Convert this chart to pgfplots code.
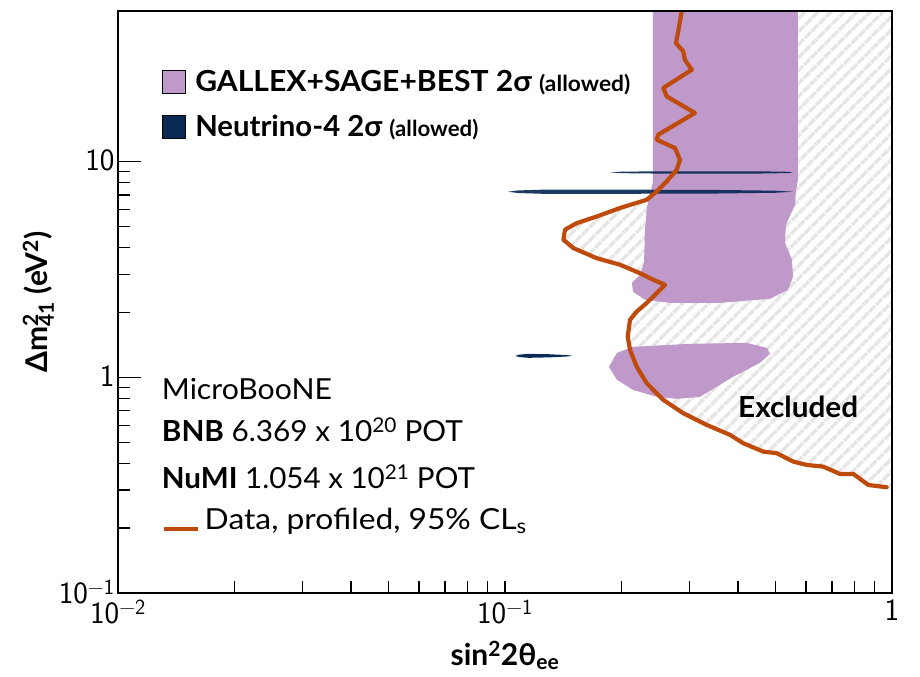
\documentclass[border=0pt]{standalone}
\usepackage{fontspec}
\setmainfont{Lato}
\usepackage{graphicx}
\usepackage{pgfplots}
\pgfplotsset{compat=1.18}
\usetikzlibrary{patterns.meta}
\definecolor{gsb}{RGB}{191,153,202}
\definecolor{nfour}{RGB}{8,42,84}
\definecolor{dataor}{RGB}{190,75,12}
\definecolor{hatchc}{RGB}{230,230,230}
\begin{document}
\begin{tikzpicture}
\path[use as bounding box] (0bp,0bp) rectangle (920bp,677bp);
\begin{axis}[
  at={(118bp,84bp)}, anchor=south west,
  scale only axis, width=774bp, height=582bp,
  xmode=log, ymode=log,
  xmin=0.01, xmax=1, ymin=0.1, ymax=50,
  axis on top,
  axis line style={line width=1.8bp},
  tick align=inside, xtick pos=bottom, ytick pos=left,
  major tick length=12bp, minor tick length=12bp,
  tick style={line width=1.3bp, black},
  xtick={0.01,0.1,1}, xticklabels={10\textsuperscript{−2},10\textsuperscript{−1},1},
  ytick={0.1,1,10}, yticklabels={10\textsuperscript{−1},1,10},
  extra y ticks={1,10}, extra y tick labels={},
  extra y tick style={major tick length=23bp},
  ticklabel style={font=\sffamily\fontsize{31bp}{33bp}\selectfont},
  xticklabel style={yshift=-3bp},
  yticklabel style={yshift=1bp},
  xlabel={\bfseries sin\textsuperscript{2}2θ\textsubscript{ee}},
  ylabel={\bfseries Δm\rlap{\textsuperscript{2}}\textsubscript{41} (eV\textsuperscript{2})},
  label style={font=\fontsize{30bp}{32bp}\selectfont},
  xlabel style={at={(axis description cs:0.5,-0.107)}, anchor=center},
  ylabel style={at={(axis description cs:-0.103,0.5)}, anchor=center},
  legend image code/.code={\fill[#1] (0bp,-1.5bp) rectangle (23bp,21.5bp);},
  legend style={at={(axis description cs:0.0565,0.8986)}, anchor=north west,
    draw=none, fill=none, inner sep=0pt, row sep=21bp,
    font=\fontsize{29bp}{34bp}\selectfont\bfseries,
    nodes={inner sep=0pt, anchor=base west}},
  legend cell align=left,
]
% excluded region (hatched)
\addplot[forget plot, draw=none, pattern={Lines[angle=45,distance=9.5bp,line width=3.5bp]}, pattern color=hatchc] coordinates {
(0.2861,60) (0.2861,49.8) (0.2804,40.2) (0.2766,35.5) (0.2888,32.5) (0.2917,29.7) (0.3038,26.7)
(0.2565,21.98) (0.2617,20.09) (0.3097,16.83) (0.2489,13.35) (0.2466,12.65) (0.2749,11.58)
(0.2833,10.21) (0.2778,9.18) (0.2617,8.10) (0.2466,7.28) (0.2323,6.66) (0.1982,6.10)
(0.1726,5.57) (0.1532,5.19) (0.1429,4.84) (0.1415,4.35) (0.1501,3.98) (0.1726,3.57)
(0.1982,3.33) (0.2233,3.04) (0.2416,2.835) (0.2591,2.687) (0.2466,2.459) (0.2323,2.210)
(0.2189,2.020) (0.2104,1.849) (0.2075,1.547) (0.2104,1.342) (0.2189,1.122) (0.2323,0.940)
(0.2565,0.786) (0.2888,0.682) (0.3320,0.602) (0.3815,0.541) (0.4127,0.495) (0.4650,0.4525)
(0.5036,0.445) (0.5559,0.4067) (0.6020,0.3926) (0.6648,0.3855) (0.7338,0.3566) (0.7946,0.3566)
(0.8686,0.317) (0.9690,0.3093) (1,0.3093) (1,60)
} -- cycle;
% GALLEX+SAGE+BEST upper region
\addplot[forget plot, draw=none, fill=gsb] coordinates {
(0.2412,60) (0.2412,8.08) (0.2384,7.41) (0.2328,6.18) (0.2300,4.83) (0.2287,3.40)
(0.2233,2.99) (0.2128,2.745) (0.2142,2.494) (0.2300,2.289) (0.2669,2.216) (0.3594,2.216)
(0.4839,2.313) (0.5385,2.547) (0.5549,2.927) (0.5515,3.51) (0.5291,4.21) (0.532,5.10)
(0.5617,6.32) (0.5649,7.41) (0.5716,8.25) (0.5716,60)
} -- cycle;
% GALLEX+SAGE+BEST lower island
\addplot[forget plot, draw=none, fill=gsb] coordinates {
(0.1856,1.119) (0.1948,1.299) (0.2141,1.385) (0.3006,1.431) (0.4219,1.445) (0.4753,1.370)
(0.4839,1.285) (0.456,1.168) (0.3882,1.005) (0.319,0.812) (0.2782,0.795) (0.247,0.812)
(0.2141,0.875) (0.1948,0.974)
} -- cycle;
% Neutrino-4 islands
\addplot[forget plot, draw=none, fill=nfour, fill opacity=0.92] coordinates {
(0.1018,7.26) (0.108,7.36) (0.125,7.42) (0.2,7.42) (0.35,7.40) (0.5,7.34) (0.5549,7.26)
(0.5,7.18) (0.35,7.12) (0.2,7.10) (0.125,7.10) (0.108,7.16)
} -- cycle;
\addplot[forget plot, draw=none, fill=nfour, fill opacity=0.92] coordinates {
(0.1867,8.92) (0.2,8.99) (0.25,9.03) (0.45,9.03) (0.54,8.98) (0.5549,8.92)
(0.54,8.86) (0.45,8.81) (0.25,8.81) (0.2,8.85)
} -- cycle;
\addplot[forget plot, draw=none, fill=nfour] coordinates {
(0.1062,1.258) (0.109,1.275) (0.115,1.285) (0.13,1.28) (0.145,1.268) (0.1494,1.258)
(0.145,1.250) (0.13,1.238) (0.115,1.232) (0.109,1.242)
} -- cycle;
% MicroBooNE data contour
\addplot[forget plot, dataor, line width=4.2bp, line join=round, line cap=round] coordinates {
(0.2861,52) (0.2861,49.8) (0.2804,40.2) (0.2766,35.5) (0.2888,32.5) (0.2917,29.7) (0.3038,26.7)
(0.2565,21.98) (0.2617,20.09) (0.3097,16.83) (0.2489,13.35) (0.2466,12.65) (0.2749,11.58)
(0.2833,10.21) (0.2778,9.18) (0.2617,8.10) (0.2466,7.28) (0.2323,6.66) (0.1982,6.10)
(0.1726,5.57) (0.1532,5.19) (0.1429,4.84) (0.1415,4.35) (0.1501,3.98) (0.1726,3.57)
(0.1982,3.33) (0.2233,3.04) (0.2416,2.835) (0.2591,2.687) (0.2466,2.459) (0.2323,2.210)
(0.2189,2.020) (0.2104,1.849) (0.2075,1.547) (0.2104,1.342) (0.2189,1.122) (0.2323,0.940)
(0.2565,0.786) (0.2888,0.682) (0.3320,0.602) (0.3815,0.541) (0.4127,0.495) (0.4650,0.4525)
(0.5036,0.445) (0.5559,0.4067) (0.6020,0.3926) (0.6648,0.3855) (0.7338,0.3566) (0.7946,0.3566)
(0.8686,0.317) (0.9690,0.3093)
};
\addlegendimage{fill=gsb}
\addlegendentry{\hspace{10bp}\resizebox{435bp}{\height}{GALLEX+SAGE+BEST 2σ {\fontsize{22bp}{24bp}\selectfont (allowed)}}}
\addlegendimage{fill=nfour}
\addlegendentry{\hspace{10bp}\resizebox{283bp}{\height}{Neutrino-4 2σ {\fontsize{22bp}{24bp}\selectfont (allowed)}}}
\node[anchor=base west, inner sep=0pt, font=\fontsize{29bp}{32bp}\selectfont\bfseries] at (axis cs:0.400,0.648) {\resizebox{120bp}{\height}{Excluded}};
\node[anchor=base west, inner sep=0pt, font=\fontsize{29bp}{32bp}\selectfont] at (axis description cs:0.0565,0.3333) {\resizebox{170bp}{\height}{MicroBooNE}};
\node[anchor=base west, inner sep=0pt, font=\fontsize{29bp}{32bp}\selectfont] at (axis description cs:0.0565,0.2595) {\resizebox{301bp}{\height}{\textbf{BNB} 6.369 x 10\textsuperscript{20} POT}};
\node[anchor=base west, inner sep=0pt, font=\fontsize{29bp}{32bp}\selectfont] at (axis description cs:0.0565,0.1804) {\resizebox{313bp}{\height}{\textbf{NuMI} 1.054 x 10\textsuperscript{21} POT}};
\end{axis}
\begin{axis}[
  at={(118bp,84bp)}, anchor=south west,
  scale only axis, width=774bp, height=582bp,
  xmode=log, ymode=log,
  xmin=0.01, xmax=1, ymin=0.1, ymax=50,
  hide axis,
  legend image code/.code={\draw[#1] (0bp,0bp) -- (34bp,0bp);},
  legend style={at={(axis description cs:0.0565,0.126)}, anchor=west,
    draw=none, fill=none, inner sep=0pt,
    font=\fontsize{29bp}{34bp}\selectfont,
    nodes={inner sep=0pt, anchor=base west}},
  legend cell align=left,
]
\addlegendimage{dataor, line width=3.8bp}
\addlegendentry{\hspace{5bp}\resizebox{322bp}{\height}{Data, profiled, 95\% CL\textsubscript{s}}}
\end{axis}
\end{tikzpicture}
\end{document}
